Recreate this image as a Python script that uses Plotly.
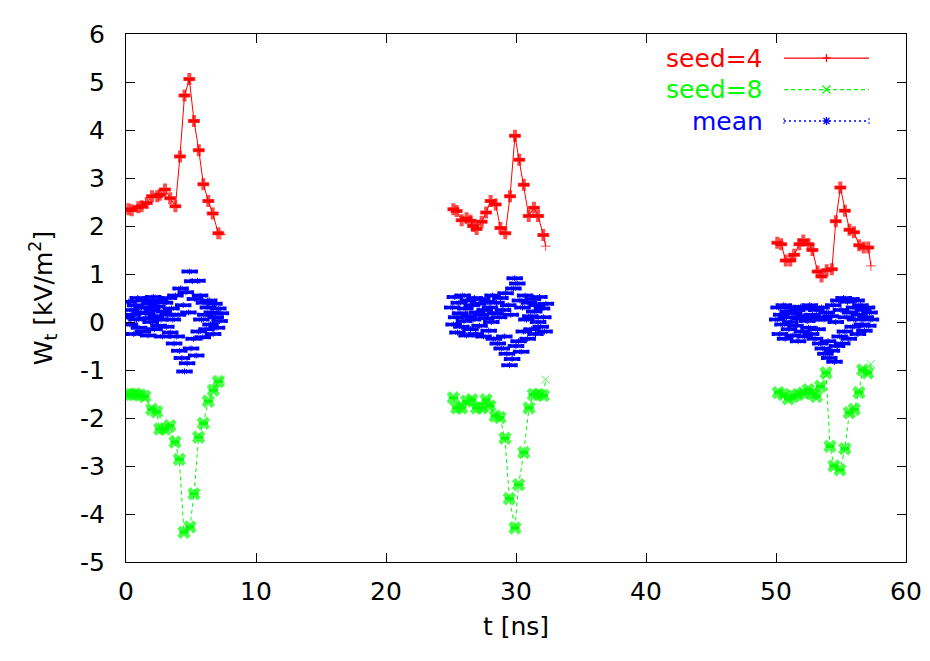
import plotly.graph_objects as go

# ---------------- data ----------------
seed4_t = [0.18, 0.44, 0.95, 1.20, 1.60, 2.00, 2.40, 2.60, 3.00, 3.40, 3.80, 4.15, 4.50, 4.87, 5.23, 5.60, 5.95, 6.33, 6.67, 7.10, 7.30,
           25.18, 25.44, 25.82, 26.20, 26.50, 26.70, 26.97, 27.36, 27.70, 28.05, 28.44, 28.80, 29.18, 29.54, 29.92, 30.25, 30.60, 30.98, 31.38, 31.70, 32.10, 32.28,
           50.10, 50.40, 50.75, 51.10, 51.40, 51.80, 52.10, 52.50, 52.80, 53.20, 53.50, 53.90, 54.30, 54.60, 54.95, 55.30, 55.65, 56.00, 56.40, 56.75, 57.10, 57.30]
seed4_v = [2.35, 2.33, 2.39, 2.41, 2.48, 2.62, 2.62, 2.65, 2.76, 2.58, 2.41, 3.45, 4.72, 5.06, 4.19, 3.58, 2.87, 2.52, 2.26, 1.85, 1.82,
           2.35, 2.31, 2.12, 2.16, 2.11, 2.00, 1.94, 2.09, 2.28, 2.52, 2.45, 1.96, 1.85, 2.62, 3.88, 3.38, 2.86, 2.21, 2.38, 2.21, 1.81, 1.58,
           1.65, 1.62, 1.28, 1.28, 1.40, 1.62, 1.70, 1.62, 1.50, 1.05, 0.95, 1.08, 1.10, 2.10, 2.80, 2.32, 1.92, 1.87, 1.60, 1.55, 1.55, 1.17]

seed8_t = [0.10, 0.40, 0.75, 1.10, 1.45, 1.98, 2.36, 2.60, 3.00, 3.38, 3.77, 4.10, 4.46, 4.92, 5.23, 5.59, 5.95, 6.33, 6.72, 7.10, 7.30,
           25.18, 25.44, 25.82, 26.20, 26.60, 26.97, 27.36, 27.70, 28.00, 28.40, 28.77, 29.15, 29.49, 29.92, 30.20, 30.60, 31.00, 31.33, 31.72, 32.10, 32.28,
           50.18, 50.58, 50.95, 51.33, 51.70, 52.10, 52.48, 52.80, 53.10, 53.43, 53.85, 54.15, 54.46, 54.92, 55.30, 55.64, 56.02, 56.38, 56.67, 57.05, 57.30]
seed8_v = [-1.51, -1.51, -1.50, -1.52, -1.55, -1.82, -1.87, -2.23, -2.23, -2.16, -2.50, -2.86, -4.38, -4.27, -3.58, -2.40, -2.11, -1.65, -1.42, -1.24, -1.20,
           -1.58, -1.79, -1.79, -1.65, -1.62, -1.79, -1.79, -1.62, -1.75, -1.96, -1.99, -2.42, -3.68, -4.29, -3.39, -2.72, -1.79, -1.51, -1.51, -1.53, -1.20,
           -1.47, -1.51, -1.60, -1.55, -1.51, -1.48, -1.41, -1.49, -1.55, -1.34, -1.06, -2.59, -3.00, -3.08, -2.64, -1.89, -1.82, -1.47, -1.00, -1.06, -0.88]

mean_t = [0.1, 0.2, 0.3, 0.4, 0.5, 0.6, 0.7, 0.8, 0.9, 1.0, 1.1, 1.2, 1.3, 1.4, 1.5, 1.6, 1.7, 1.8, 1.9, 2.0,
          2.1, 2.2, 2.3, 2.4, 2.5, 2.6, 2.7, 2.8, 2.9, 3.0, 3.1, 3.2, 3.3, 3.4, 3.5, 3.6, 3.7, 3.8, 3.9, 4.0,
          4.1, 4.2, 4.3, 4.4, 4.5, 4.6, 4.7, 4.8, 4.9, 5.0, 5.1, 5.2, 5.3, 5.4, 5.5, 5.6, 5.7, 5.8, 5.9, 6.0,
          6.1, 6.2, 6.3, 6.4, 6.5, 6.6, 6.7, 6.8, 6.9, 7.0, 7.1, 7.2, 7.3,
          25.1, 25.2, 25.3, 25.4, 25.5, 25.6, 25.7, 25.8, 25.9, 26.0, 26.1, 26.2, 26.3, 26.4, 26.5, 26.6, 26.7, 26.8, 26.9, 27.0,
          27.1, 27.2, 27.3, 27.4, 27.5, 27.6, 27.7, 27.8, 27.9, 28.0, 28.1, 28.2, 28.3, 28.4, 28.5, 28.6, 28.7, 28.8, 28.9, 29.0,
          29.1, 29.2, 29.3, 29.4, 29.5, 29.6, 29.7, 29.8, 29.9, 30.0, 30.1, 30.2, 30.3, 30.4, 30.5, 30.6, 30.7, 30.8, 30.9, 31.0,
          31.1, 31.2, 31.3, 31.4, 31.5, 31.6, 31.7, 31.8, 31.9, 32.0, 32.1, 32.2, 32.3,
          50.1, 50.2, 50.3, 50.4, 50.5, 50.6, 50.7, 50.8, 50.9, 51.0, 51.1, 51.2, 51.3, 51.4, 51.5, 51.6, 51.7, 51.8, 51.9, 52.0,
          52.1, 52.2, 52.3, 52.4, 52.5, 52.6, 52.7, 52.8, 52.9, 53.0, 53.1, 53.2, 53.3, 53.4, 53.5, 53.6, 53.7, 53.8, 53.9, 54.0,
          54.1, 54.2, 54.3, 54.4, 54.5, 54.6, 54.7, 54.8, 54.9, 55.0, 55.1, 55.2, 55.3, 55.4, 55.5, 55.6, 55.7, 55.8, 55.9, 56.0,
          56.1, 56.2, 56.3, 56.4, 56.5, 56.6, 56.7, 56.8, 56.9, 57.0, 57.1, 57.2, 57.3]
mean_v = [0.10, 0.42, -0.05, 0.25, 0.15, -0.25, 0.35, 0.05, 0.50, -0.12, 0.20, 0.30, -0.20, 0.45, 0.08, 0.18, -0.28, 0.38, 0.00, 0.25,
          0.52, -0.15, 0.12, 0.32, -0.08, 0.45, 0.05, -0.30, 0.22, 0.40, -0.10, 0.15, 0.50, -0.22, 0.28, 0.05, -0.45, 0.55, -0.30, 0.15,
          -0.60, 0.70, -0.75, 0.35, -1.03, 0.62, -0.86, 0.20, 1.05, -0.55, 0.85, -0.35, 0.48, -0.70, 0.86, -0.20, 0.55, 0.05, -0.32, 0.40,
          0.15, -0.15, 0.30, 0.45, -0.05, 0.20, -0.25, 0.38, 0.10, -0.12, 0.28, 0.02, 0.18,
          0.30, -0.05, 0.52, 0.10, -0.22, 0.40, 0.18, -0.10, 0.55, 0.02, 0.28, -0.28, 0.45, 0.12, -0.15, 0.35, 0.05, 0.50, -0.25, 0.20,
          0.38, -0.08, 0.15, 0.48, -0.30, 0.25, 0.08, 0.42, -0.18, 0.30, 0.00, 0.55, -0.35, 0.18, 0.40, -0.45, 0.10, 0.50, -0.55, 0.25,
          -0.30, 0.60, -0.66, 0.35, -0.90, 0.15, -0.77, 0.70, 0.91, -0.50, 0.80, -0.40, 0.45, -0.62, 0.30, -0.20, 0.55, 0.05, -0.35, 0.40,
          0.12, -0.15, 0.48, 0.22, -0.25, 0.35, 0.00, 0.52, -0.10, 0.28, 0.10, -0.20, 0.38,
          0.05, 0.30, -0.25, 0.15, -0.05, 0.35, -0.35, 0.10, 0.22, -0.15, 0.00, 0.30, -0.28, 0.18, -0.08, 0.25, -0.40, 0.08, 0.32, -0.20,
          0.12, -0.30, 0.28, 0.02, -0.12, 0.35, -0.25, 0.15, 0.05, -0.35, 0.25, -0.15, 0.10, -0.45, 0.30, -0.55, 0.05, -0.66, 0.20, -0.40,
          -0.75, 0.12, -0.60, 0.35, -0.83, 0.00, -0.50, 0.45, -0.30, 0.25, -0.45, 0.50, -0.20, 0.10, 0.42, -0.35, 0.20, 0.48, -0.10, 0.30,
          0.05, 0.45, -0.25, 0.15, 0.35, -0.05, 0.25, -0.18, 0.10, 0.30, -0.08, 0.20, 0.05]

series_names = ["seed=4", "seed=8", "mean"]
x_ticks = [0, 10, 20, 30, 40, 50, 60]
y_ticks = [-5, -4, -3, -2, -1, 0, 1, 2, 3, 4, 5, 6]
y_tick_text = ["-5", "-4", "-3", "-2", "-1", "0", "1", "2", "3", "4", "5", "6"]

RED, GREEN, BLUE = "#ff0000", "#00ff00", "#0000ff"
FONT = "DejaVu Sans, Liberation Sans, sans-serif"
FS = 25


def segment_ends(ts):
    # last point of every time segment is drawn thin (no error bar)
    ends = []
    for i, t in enumerate(ts):
        nxt = ts[i + 1] if i + 1 < len(ts) else None
        ends.append(nxt is None or nxt - t > 5)
    return ends


def with_gaps(ts, vs):
    xs, ys = [], []
    for i, (t, v) in enumerate(zip(ts, vs)):
        if i > 0 and t - ts[i - 1] > 5:
            xs.append(None); ys.append(None)
        xs.append(t); ys.append(v)
    return xs, ys


fig = go.Figure()

# mean (drawn first, underneath)
fig.add_trace(go.Scatter(
    x=mean_t, y=mean_v, mode="markers", name=series_names[2], showlegend=False,
    marker=dict(color=BLUE, size=5, symbol="asterisk-open", line=dict(color=BLUE, width=1)),
    error_x=dict(type="constant", value=0.5, color=BLUE, thickness=3.5, width=2)))

# seed=4
e4 = segment_ends(seed4_t)
x4, y4 = with_gaps(seed4_t, seed4_v)
fig.add_trace(go.Scatter(x=x4, y=y4, mode="lines", line=dict(color=RED, width=1),
                         showlegend=False, hoverinfo="skip"))
fig.add_trace(go.Scatter(
    x=seed4_t, y=seed4_v, mode="markers", name=series_names[0], showlegend=False,
    marker=dict(color=RED, size=[7 if e else 10 for e in e4],
                symbol=["cross-thin" if e else "cross" for e in e4],
                line=dict(color=RED, width=[1 if e else 0 for e in e4])),
    error_x=dict(type="data", array=[0 if e else 0.4 for e in e4], color=RED, thickness=3, width=0)))

# seed=8
e8 = segment_ends(seed8_t)
x8, y8 = with_gaps(seed8_t, seed8_v)
fig.add_trace(go.Scatter(x=x8, y=y8, mode="lines", line=dict(color=GREEN, width=1, dash="4px,3px"),
                         showlegend=False, hoverinfo="skip"))
fig.add_trace(go.Scatter(
    x=seed8_t, y=seed8_v, mode="markers", name=series_names[1], showlegend=False,
    marker=dict(color=GREEN, size=[8 if e else 12 for e in e8],
                symbol=["x-thin" if e else "x" for e in e8],
                line=dict(color=GREEN, width=[1 if e else 0 for e in e8])),
    error_x=dict(type="data", array=[0 if e else 0.35 for e in e8], color=GREEN, thickness=3, width=0)))

# ---------------- custom gnuplot-style key ----------------
# page pixel -> paper coords (plot area spans x 126..906, y 25..562 on the page)
W, H = 780.0, 537.0
def px(xp):
    return (xp - 126) / W
def py(yp):
    return (562 - yp) / H

rows = [49.5, 81.5, 113.5]
colors = [RED, GREEN, BLUE]
shapes = []
annotations = []
for name, col, yr in zip(series_names, colors, rows):
    annotations.append(dict(x=px(765), y=py(yr), xref="paper", yref="paper", text=name, showarrow=False,
                            xanchor="right", yanchor="middle", font=dict(size=FS, color=col, family=FONT)))
dash_styles = ["solid", "4px,3px", "2px,3px"]
for col, yr, dsh in zip(colors, rows, dash_styles):
    shapes.append(dict(type="line", xref="paper", yref="paper", x0=px(784), x1=px(869), y0=py(yr), y1=py(yr),
                       line=dict(color=col, width=1.3, dash=dsh)))
cx = px(826.5)
def glyph(yr, segs, col):
    for (a, b, c, d) in segs:
        shapes.append(dict(type="line", xref="paper", yref="paper", xsizemode="pixel", ysizemode="pixel",
                           xanchor=cx, yanchor=py(yr), x0=a, y0=b, x1=c, y1=d, line=dict(color=col, width=1.3)))
glyph(rows[0], [(-4, 0, 4, 0), (0, -4, 0, 4)], RED)
glyph(rows[1], [(-4, -4, 4, 4), (-4, 4, 4, -4)], GREEN)
glyph(rows[2], [(-4, 0, 4, 0), (0, -4, 0, 4), (-3, -3, 3, 3), (-3, 3, 3, -3)], BLUE)
for xe in (784, 869):
    shapes.append(dict(type="line", xref="paper", yref="paper", x0=px(xe), x1=px(xe),
                       y0=py(rows[2] - 3), y1=py(rows[2] + 3), line=dict(color=BLUE, width=1, dash="2px,2px")))

# the page body has an 8px margin, so the figure is offset by 8px; margins compensate
fig.update_layout(
    width=930, height=661,
    margin=dict(l=118, r=32, t=17, b=107),
    paper_bgcolor="white", plot_bgcolor="white",
    font=dict(family=FONT, size=FS, color="black"),
    showlegend=False,
    shapes=shapes, annotations=annotations,
    xaxis=dict(range=[0, 60], tickvals=x_ticks, ticks="inside", ticklen=9, tickwidth=1, tickcolor="black",
               showline=True, linecolor="black", linewidth=1, mirror="ticks", showgrid=False, zeroline=False,
               ticklabelstandoff=7,
               title=dict(text="t [ns]", font=dict(size=FS), standoff=12)),
    yaxis=dict(range=[-5, 6], tickvals=y_ticks, ticktext=y_tick_text, ticks="inside", ticklen=9, tickwidth=1,
               tickcolor="black", showline=True, linecolor="black", linewidth=1, mirror="ticks",
               showgrid=False, zeroline=False, ticklabelstandoff=15,
               title=dict(text="W<sub>t</sub> [kV/m<sup>2</sup>]", font=dict(size=FS), standoff=20)),
)

fig.write_html("out.html")
